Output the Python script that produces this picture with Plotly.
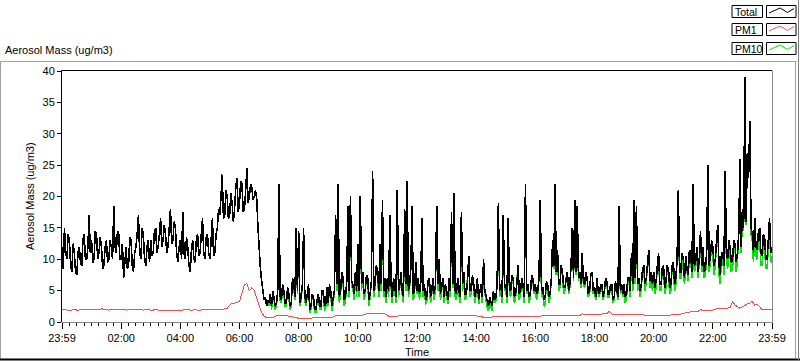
import pandas as pd
import plotly.graph_objects as go

# ---------------- data ----------------
# Total and PM10: 2.5-minute samples from 23:59 to 23:59 next day (one row per hour)
total = [
    12, 8.5, 15, 11, 10, 14, 13, 9, 8, 12.5, 11, 8, 7.5, 11, 12, 9.5, 9, 13, 14, 10, 10, 12, 17, 11,
    13, 9.5, 10, 14.5, 14, 10, 11, 13.5, 12, 8.5, 9, 12, 13, 9.5, 10, 13, 12, 10, 18.5, 12, 11, 14.5, 14, 10,
    10, 12.5, 7, 10, 12, 8.5, 9, 13.5, 13, 9, 8, 11, 12, 14, 17, 11, 10, 15, 14, 10, 9, 12, 13, 9.5,
    13, 10.5, 11, 14.5, 15, 11, 12, 14, 16.5, 12, 13, 15.5, 14, 11, 12, 15, 18, 12.5, 13, 16, 15, 11, 9.5, 12,
    13, 10, 17.5, 11, 10, 13.5, 12, 9, 8, 11.5, 13, 10, 9.5, 13, 14, 10.5, 11, 14, 16.5, 11, 10, 13.5, 14, 11,
    10, 13, 16.5, 10.5, 11, 14, 15, 18, 17, 20, 23.5, 16.5, 17, 21, 20, 16.5, 17, 20.5, 19, 16, 18, 21.5, 23, 17.5,
    19, 22.5, 22, 17.5, 18, 21, 24.5, 19, 20, 22, 21.5, 19.5, 20, 21, 19.5, 15, 11, 8.5, 6.5, 5, 3.5, 4, 2.5, 3.5,
    3, 4.5, 2.5, 5, 4, 2.5, 3, 5, 22, 4, 3.5, 6, 5, 3, 3, 5.5, 4.5, 2.5, 3, 7, 6, 4, 15, 5,
    14.5, 3, 4, 6, 15, 4, 3, 5, 6, 2, 2.5, 4.5, 4, 2, 2, 3.5, 4.5, 2.5, 2.5, 5, 5, 2.5, 3, 5.5,
    3, 6, 5, 2.5, 3.5, 5, 17, 6, 22, 4, 5, 8, 7, 3.5, 4, 6.5, 18.5, 5, 20, 6.5, 6, 4.5, 8, 5,
    12.5, 5, 20, 6, 8, 4.5, 5, 7.5, 7, 3.5, 4.5, 6.5, 24, 5, 6, 9, 8, 5, 12.5, 6, 19.5, 5, 7, 4,
    7, 5, 17, 6, 4, 7, 5.5, 4, 21, 5, 6, 8, 5, 4, 18, 6, 22.5, 5, 6, 8.5, 18.5, 4.5, 5, 9.5,
    5, 7, 4.5, 6, 16.5, 5, 6, 3.5, 4, 6.5, 7, 4, 5, 7, 4.5, 6, 18.5, 6, 10, 4.5, 5.5, 7, 4, 6,
    5, 3.5, 7, 5, 17.5, 6, 20.5, 5, 4.5, 7, 5, 4, 17.5, 6, 8, 4.5, 4.5, 6.5, 10.5, 5, 5, 7.5, 6, 4,
    5, 7, 3.5, 5, 6, 4, 10, 5, 4, 3, 2.5, 4, 3, 2.5, 5, 3.5, 4, 6, 19, 5, 6, 4, 17, 5.5,
    6, 4, 16.5, 5, 5, 7.5, 7, 4, 4.5, 6, 9, 4.5, 5, 7, 6, 4, 22, 5, 6, 4, 4.5, 7.5, 7, 5,
    6, 4.5, 5, 7, 19.5, 5, 5.5, 3.5, 4, 6.5, 6, 4, 4.5, 7, 13, 9, 22, 8, 11.5, 6, 6, 9, 8, 5.5,
    5.5, 7, 8, 5, 6, 9, 15, 7, 19.5, 8, 18.5, 7, 8, 6, 11, 6.5, 6, 8, 7, 4.5, 5, 7.5, 8, 5,
    5.5, 4, 7, 5, 4.5, 6, 6, 4, 5, 7, 6.5, 4.5, 4.5, 6, 6, 3.5, 4, 6.5, 5.5, 4, 18.5, 5, 6, 4.5,
    6, 4, 4.5, 7, 7, 5, 11, 6, 19.5, 7, 18.5, 6, 7, 5, 6, 8.5, 9, 6, 7, 9, 11.5, 6.5, 8, 6,
    8, 5.5, 6.5, 9, 11, 6, 6, 8.5, 9, 5.5, 6.5, 9, 8.5, 5.5, 6, 9, 9.5, 6, 7, 10, 21, 8, 8, 11,
    10, 7, 10.5, 8.5, 7.5, 11.5, 11, 8, 22, 9, 9.5, 12, 8, 10, 14.5, 9, 12, 8, 8.5, 11, 25, 9, 10.5, 13,
    12, 9, 10, 13, 15.5, 9, 7.5, 11, 11, 9, 24, 11, 10, 13, 12, 9.5, 10, 13, 12.5, 9.5, 11, 14, 26, 12,
    18, 15, 39, 16, 27, 23, 32, 15, 14, 11, 16.5, 12, 11.5, 14.5, 15, 11, 10.5, 14, 13.5, 10, 10, 13, 16.5, 11,
    12,
]

pm10 = [
    12, 8.5, 15, 11, 10, 14, 13, 9, 8, 12.5, 11, 8, 7.5, 11, 12, 9.5, 9, 13, 14, 10, 10, 12, 17, 11,
    13, 9.5, 10, 14.5, 14, 10, 11, 13.5, 12, 8.5, 9, 12, 13, 9.5, 10, 13, 12, 10, 18.5, 12, 11, 14.5, 14, 10,
    10, 12.5, 7, 10, 12, 8.5, 9, 13.5, 13, 9, 8, 11, 12, 14, 17, 11, 10, 15, 14, 10, 9, 12, 13, 9.5,
    13, 10.5, 11, 14.5, 15, 11, 12, 14, 16.5, 12, 13, 15.5, 14, 11, 12, 15, 18, 12.5, 13, 16, 15, 11, 9.5, 12,
    13, 10, 17.5, 11, 10, 13.5, 12, 9, 8, 11.5, 13, 10, 9.5, 13, 14, 10.5, 11, 14, 16.5, 11, 10, 13.5, 14, 11,
    10, 13, 16.5, 10.5, 11, 14, 15, 18, 17, 20, 23.5, 16.5, 17, 21, 20, 16.5, 17, 20.5, 19, 16, 18, 21.5, 23, 17.5,
    19, 22.5, 22, 17.5, 18, 21, 24.5, 19, 20, 22, 21.5, 19.5, 20, 21, 19.5, 15, 11, 8.5, 6.5, 5, 3.5, 4, 2.5, 3.5,
    2.5, 4.5, 2, 5, 3.5, 2, 2.5, 5, 22, 3.5, 3, 6, 4.5, 2.5, 2.5, 5.5, 4, 2, 2.5, 7, 5.5, 3.5, 15, 4.5,
    14.5, 2.5, 3.5, 6, 15, 3.5, 2.5, 5, 6, 1.5, 2, 4.5, 3.5, 1.5, 1.5, 3.5, 4, 2, 2, 5, 4.5, 1.8, 2.5, 5.5,
    2.5, 6, 4.5, 1.8, 3, 5, 17, 5, 22, 3, 4.5, 8, 6.5, 2.5, 3.5, 6.5, 18.5, 4, 20, 5.5, 5.5, 3.5, 8, 4,
    12.5, 4, 20, 5, 8, 3.5, 4.5, 7.5, 6.5, 2.5, 4, 6.5, 24, 4, 5.5, 9, 7.5, 4, 12.5, 5, 19.5, 4, 6.5, 3,
    6.5, 4, 17, 5.5, 3, 7, 5, 3, 21, 4, 5.5, 8, 4.5, 3, 18, 5, 22.5, 4, 5.5, 8.5, 18.5, 3.5, 4.5, 9,
    4.5, 7, 3.5, 6, 16.5, 4, 5.5, 2.8, 3.5, 6.5, 6.5, 3, 4.5, 7, 3.5, 5.5, 18.5, 5, 10, 3.5, 5, 7, 3, 5.5,
    4.5, 2.8, 7, 4, 17.5, 5.5, 20.5, 4, 3.5, 7, 4.5, 3, 17.5, 5, 8, 3.5, 4, 6.5, 10.5, 4, 4.5, 7.5, 5.5, 3,
    4.5, 7, 2.8, 5, 5.5, 3, 10, 4.5, 3.5, 2.2, 1.8, 3.5, 2.5, 1.8, 4.5, 3, 3.5, 6, 19, 4, 5.5, 3, 17, 5,
    5.5, 3, 16.5, 4.5, 4, 7.5, 6.5, 3, 4, 6, 9, 3.5, 4.5, 7, 5.5, 3, 22, 4.5, 5.5, 3, 4, 7.5, 6.5, 4.5,
    5.5, 3.5, 4.5, 7, 19.5, 4, 5, 2.5, 3, 6.5, 5.5, 3, 4, 7, 13, 8.5, 22, 7.5, 11.5, 5, 5.5, 9, 7.5, 4.5,
    5, 7, 8, 4.5, 5.5, 9, 15, 6.5, 19.5, 7.5, 18.5, 6.5, 8, 5.5, 11, 6, 5.5, 8, 7, 4, 4.5, 7.5, 8, 4.5,
    5, 3.5, 7, 4.5, 4, 6, 5.5, 3.5, 4.5, 7, 6, 4, 4, 6, 5.5, 3, 3.5, 6.5, 5, 3.5, 18.5, 4.5, 5.5, 4,
    5.5, 3, 4, 7, 6.5, 4, 11, 5, 19.5, 6, 18.5, 5, 6.5, 4, 5.5, 8.5, 8.5, 5, 6.5, 9, 11.5, 5.5, 7.5, 5,
    7, 4.5, 5.5, 9, 11, 5, 5, 8.5, 8.5, 4.5, 5.5, 9, 8, 4.5, 5, 9, 9, 5, 6, 10, 21, 7, 7, 11,
    9, 6, 10, 7.5, 6.5, 11.5, 10.5, 7, 22, 8, 8.5, 12, 7, 9.5, 14.5, 8, 11.5, 7, 7.5, 11, 25, 8, 9.5, 13,
    11, 7.5, 9, 13, 15.5, 7.5, 6, 10.5, 10.5, 7.5, 24, 10, 8.5, 13, 11, 8, 8.5, 13, 12, 8, 10, 14, 26, 11,
    17, 14.5, 39, 15.5, 27, 23, 32, 14, 13, 9.5, 15.5, 10.5, 10, 13.5, 13.5, 9, 9, 13, 12, 8.5, 8.5, 12, 15.5, 9.5,
    10.5,
]

# PM1: 5-minute samples from 23:59 to 23:59 next day (one row per hour)
pm1 = [
    1.9, 2.0, 1.9, 1.8, 1.9, 2.0, 1.9, 1.9, 2.0, 1.9, 1.9, 2.0,
    2.0, 1.9, 2.0, 2.0, 2.1, 2.0, 2.0, 1.9, 2.0, 2.0, 2.1, 2.0,
    2.0, 2.0, 1.9, 2.0, 2.0, 2.0, 1.9, 2.0, 1.9, 1.9, 2.0, 1.9,
    1.9, 1.9, 2.0, 1.9, 1.8, 1.9, 1.9, 1.9, 1.8, 1.9, 1.9, 1.8,
    1.9, 1.9, 2.0, 1.9, 1.9, 1.9, 2.0, 1.9, 1.9, 1.9, 1.9, 1.9,
    1.9, 1.9, 2.0, 1.9, 2.0, 2.0, 2.1, 2.2, 2.7, 3.0, 3.0, 3.1,
    3.3, 4.6, 5.9, 6.1, 4.9, 5.5, 5.0, 3.8, 2.6, 1.5, 0.9, 0.7,
    0.7, 0.7, 0.8, 1.0, 1.1, 1.1, 1.1, 1.0, 0.9, 0.8, 0.7, 0.7,
    0.6, 0.6, 0.6, 0.6, 0.6, 0.6, 0.6, 0.6, 0.6, 0.6, 0.6, 0.7,
    0.6, 0.7, 0.8, 1.0, 1.0, 1.0, 1.0, 1.0, 1.0, 1.0, 1.0, 1.0,
    1.0, 1.0, 1.1, 1.2, 1.4, 1.3, 1.3, 1.3, 1.3, 1.3, 1.2, 1.3,
    1.1, 0.8, 0.8, 0.9, 0.9, 1.0, 1.0, 1.0, 1.0, 1.0, 1.0, 1.0,
    1.0, 1.1, 1.1, 1.1, 1.1, 1.1, 1.1, 1.1, 1.1, 1.1, 1.1, 1.1,
    1.1, 1.1, 1.0, 1.1, 1.1, 1.1, 1.0, 1.0, 1.0, 1.0, 1.0, 1.0,
    1.0, 0.9, 0.8, 0.7, 0.7, 0.7, 0.7, 0.9, 0.9, 0.95, 0.95, 0.95,
    0.9, 0.95, 1.0, 0.95, 0.95, 1.0, 0.95, 0.95, 1.0, 0.95, 0.95, 1.0,
    1.0, 0.95, 0.95, 1.0, 0.95, 1.0, 0.95, 1.0, 1.0, 1.0, 1.0, 1.0,
    1.0, 1.0, 1.0, 1.0, 1.0, 1.0, 1.0, 1.3, 1.2, 1.2, 1.2, 1.2,
    1.2, 1.2, 1.2, 1.2, 1.2, 1.3, 1.7, 1.3, 1.2, 1.2, 1.2, 1.2,
    1.2, 1.2, 1.2, 1.2, 1.2, 1.2, 1.2, 1.2, 1.1, 1.1, 1.1, 1.0,
    1.0, 1.0, 1.0, 1.0, 1.0, 1.05, 1.05, 1.1, 1.2, 1.2, 1.2, 1.3,
    1.3, 1.5, 1.6, 1.6, 1.6, 1.6, 1.7, 2.0, 1.8, 1.8, 1.8, 1.8,
    1.9, 2.0, 2.2, 2.2, 2.2, 2.1, 2.2, 2.3, 3.3, 2.7, 2.5, 2.2,
    2.4, 2.7, 2.9, 3.0, 3.3, 2.7, 2.8, 2.4, 2.0, 2.0, 2.0, 1.95,
    2.0,
]

start_time = "2000-01-01 23:59"
end_time = "2000-01-02 23:59"
x_tick_labels = ["23:59", "02:00", "04:00", "06:00", "08:00", "10:00", "12:00",
                 "14:00", "16:00", "18:00", "20:00", "22:00", "23:59"]
y_ticks = [0, 5, 10, 15, 20, 25, 30, 35, 40]
legend_names = ["Total", "PM1", "PM10"]
legend_colors = ["#000000", "#ff4a4a", "#00e600"]

times_fine = pd.date_range(start_time, periods=len(total), freq="150s")
times_pm1 = pd.date_range(start_time, periods=len(pm1), freq="5min")
tick_times = pd.date_range(start_time, periods=len(x_tick_labels), freq="2h")

# ---------------- geometry helpers (pixel -> paper) ----------------
W, H = 800, 361
L, R, T, B = 62, 772, 71, 322


def px(x):
    return (x - L) / (R - L)


def py(y):
    return (B - y) / (B - T)


FONT = "Liberation Sans, Arial, sans-serif"

fig = go.Figure()
fig.add_trace(go.Scatter(x=times_fine, y=pm10, mode="lines", name="PM10",
                         line=dict(color="#00e600", width=1.6)))
fig.add_trace(go.Scatter(x=times_fine, y=total, mode="lines", name="Total",
                         line=dict(color="#000000", width=1.6)))
fig.add_trace(go.Scatter(x=times_pm1, y=pm1, mode="lines", name="PM1",
                         line=dict(color="#ff4a4a", width=1)))

shapes = []


def hline(x0, x1, y, color, w=1):
    shapes.append(dict(type="line", xref="paper", yref="paper",
                       x0=px(x0), x1=px(x1), y0=py(y), y1=py(y),
                       line=dict(color=color, width=w)))


def vline(x, y0, y1, color, w=1):
    shapes.append(dict(type="line", xref="paper", yref="paper",
                       x0=px(x), x1=px(x), y0=py(y0), y1=py(y1),
                       line=dict(color=color, width=w)))


# outer panel frame
hline(0, 797, 61.5, "#a0a0a0")
vline(0.5, 61, 360, "#a0a0a0")
hline(0, 800, 359.5, "#000000", 2)
vline(795.5, 61, 359, "#a0a0a0")
vline(798.5, 0, 361, "#808080")

# plot-area border (inset style)
hline(61.5, 772, 70.5, "#000000")
vline(61.5, 70.5, 322, "#000000")
hline(61.5, 772.5, 322.5, "#8a8a8a")
vline(772.5, 70.5, 322.5, "#8a8a8a")

# legend boxes
row_tops = [5.5, 23.5, 42.5]
annotations = []
for name, color, top in zip(legend_names, legend_colors, row_tops):
    bot = top + 12
    shapes.append(dict(type="rect", xref="paper", yref="paper",
                       x0=px(732), x1=px(762.5), y0=py(top), y1=py(bot),
                       line=dict(color="#000000", width=1), fillcolor="white"))
    shapes.append(dict(type="rect", xref="paper", yref="paper",
                       x0=px(766.5), x1=px(796), y0=py(top), y1=py(bot),
                       line=dict(color="#000000", width=1), fillcolor="white"))
    pts = [(769, top + 7.5), (780, top + 2.5), (787.5, top + 7), (794, top + 3)]
    path = "M " + " L ".join(f"{px(a)},{py(b)}" for a, b in pts)
    shapes.append(dict(type="path", xref="paper", yref="paper", path=path,
                       line=dict(color=color, width=1)))
    annotations.append(dict(xref="paper", yref="paper", x=px(733), y=py(top + 6.3),
                            text=name, showarrow=False, xanchor="left", yanchor="middle",
                            font=dict(family=FONT, size=10.5, color="black")))

annotations.append(dict(xref="paper", yref="paper", x=px(3), y=py(50),
                        text="Aerosol Mass (ug/m3)", showarrow=False,
                        xanchor="left", yanchor="middle",
                        font=dict(family=FONT, size=11, color="black")))
annotations.append(dict(xref="paper", yref="paper", x=px(30), y=py(196),
                        text="Aerosol Mass (ug/m3)", showarrow=False, textangle=-90,
                        xanchor="center", yanchor="middle",
                        font=dict(family=FONT, size=11, color="black")))
annotations.append(dict(xref="paper", yref="paper", x=px(417), y=py(352),
                        text="Time", showarrow=False,
                        xanchor="center", yanchor="middle",
                        font=dict(family=FONT, size=11, color="black")))

fig.update_layout(
    width=W, height=H,
    margin=dict(l=L, r=W - R, t=T, b=H - B, pad=0),
    paper_bgcolor="white", plot_bgcolor="white",
    showlegend=False,
    shapes=shapes, annotations=annotations,
    font=dict(family=FONT, size=11, color="black"),
    xaxis=dict(
        type="date", range=[start_time, end_time],
        tickvals=list(tick_times), ticktext=x_tick_labels,
        ticks="outside", ticklen=6, tickcolor="black", tickwidth=1,
        showgrid=False, zeroline=False, showline=False,
        tickfont=dict(family=FONT, size=11, color="black"),
        minor=dict(ticks="outside", ticklen=3, tickcolor="black",
                   dtick=15 * 60 * 1000, tick0=start_time, showgrid=False),
    ),
    yaxis=dict(
        range=[0, 40], tickvals=y_ticks,
        ticks="outside", ticklen=4, tickcolor="black", tickwidth=1,
        showgrid=False, zeroline=False, showline=False,
        tickfont=dict(family=FONT, size=11, color="black"),
    ),
)

fig.write_html("out.html", config={"displayModeBar": False},
               post_script="document.body.style.margin='0px';"
                           "document.body.style.overflow='hidden';"
                           "document.querySelectorAll('.scatterlayer path.js-line')"
                           ".forEach(function(p){p.style.shapeRendering='crispEdges';});")
